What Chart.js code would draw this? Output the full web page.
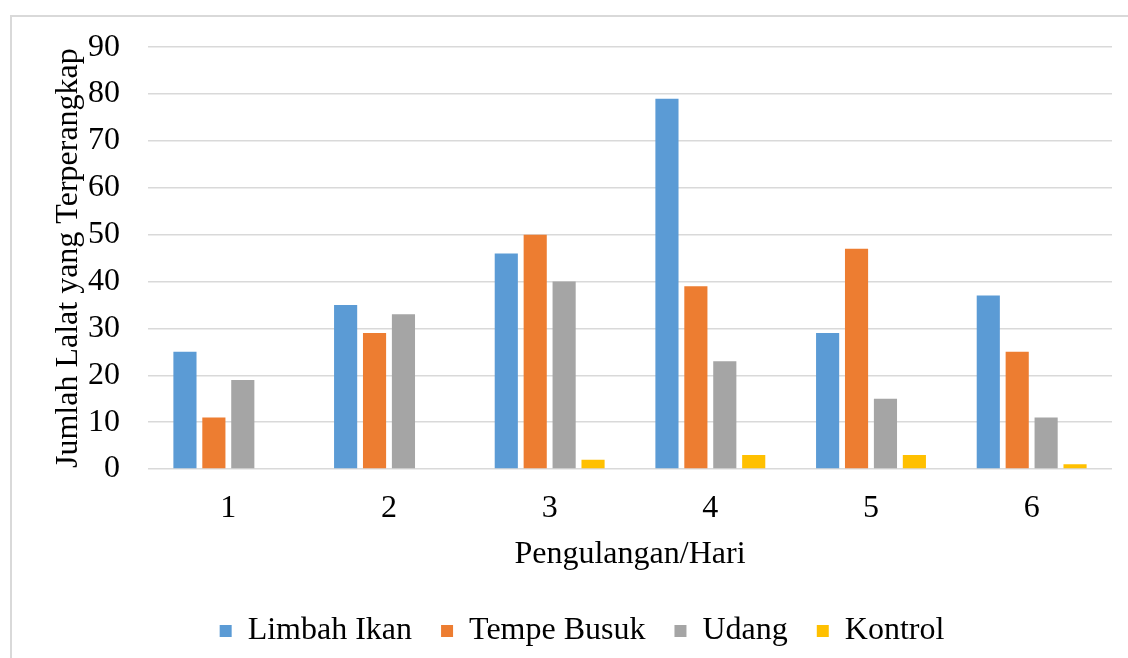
<!DOCTYPE html>
<html lang="id">
<head>
  <meta charset="UTF-8">
  <title>Jumlah Lalat yang Terperangkap</title>
  <script src="https://cdn.jsdelivr.net/npm/chart.js"></script>
  <style>
    html, body { margin: 0; padding: 0; background: #fff; }
    #wrap { position: relative; width: 1128px; height: 658px; overflow: hidden; }
    #frame { position: absolute; left: 10px; top: 15px; width: 1200px; height: 700px;
             border-left: 2px solid #d9d9d9; border-top: 2px solid #d9d9d9; }
    #box { position: absolute; left: 0; top: 0; width: 1128px; height: 658px; }
  </style>
</head>
<body>
<div id="wrap">
  <div id="frame"></div>
  <div id="box"><canvas id="chart"></canvas></div>
</div>

<script>
// data
const days = ['1', '2', '3', '4', '5', '6'];
const limbahIkan = [25, 35, 46, 79, 29, 37];
const tempeBusuk = [11, 29, 50, 39, 47, 25];
const udang = [19, 33, 40, 23, 15, 11];
const kontrol = [0, 0, 2, 3, 3, 1];

const FONT = '"Liberation Serif", "Times New Roman", serif';
const SIZE = 32;

const ctx = document.getElementById('chart').getContext('2d');
const chart = new Chart(ctx, {
  type: 'bar',
  data: {
    labels: days,
    datasets: [
      { label: 'Limbah Ikan', data: limbahIkan, backgroundColor: '#5B9BD5' },
      { label: 'Tempe Busuk', data: tempeBusuk, backgroundColor: '#ED7D31' },
      { label: 'Udang', data: udang, backgroundColor: '#A5A5A5' },
      { label: 'Kontrol', data: kontrol, backgroundColor: '#FFC000' }
    ]
  },
  options: {
    responsive: true,
    maintainAspectRatio: false,
    animation: false,
    categoryPercentage: 0.72,
    barPercentage: 0.8,
    // left padding pushes the legend centre to the right like the original
    layout: { padding: { top: 47, left: 52, right: 16, bottom: 1 } },
    plugins: {
      tooltip: { enabled: false },
      legend: {
        position: 'bottom',
        labels: {
          color: '#000',
          font: { family: FONT, size: SIZE },
          boxWidth: 12,
          boxHeight: 12,
          padding: 29
        }
      }
    },
    scales: {
      x: {
        afterFit: s => { s.height = 117; },
        grid: { display: false },
        border: { display: false },
        ticks: { color: '#000', font: { family: FONT, size: SIZE }, padding: 12 },
        title: {
          display: true,
          text: 'Pengulangan/Hari',
          color: '#000',
          font: { family: FONT, size: SIZE },
          padding: { top: 0, bottom: 12 }
        }
      },
      y: {
        min: 0,
        max: 90,
        afterFit: s => { s.width = 96; },
        grid: { color: '#d9d9d9', lineWidth: 1.5, drawTicks: false },
        border: { display: false },
        ticks: { stepSize: 10, color: '#000', font: { family: FONT, size: SIZE }, padding: 28 },
        title: {
          display: true,
          text: 'Jumlah Lalat yang Terperangkap',
          color: '#000',
          font: { family: FONT, size: SIZE },
          padding: { top: -3, bottom: 0 }
        }
      }
    }
  }
});
</script>
</body>
</html>
